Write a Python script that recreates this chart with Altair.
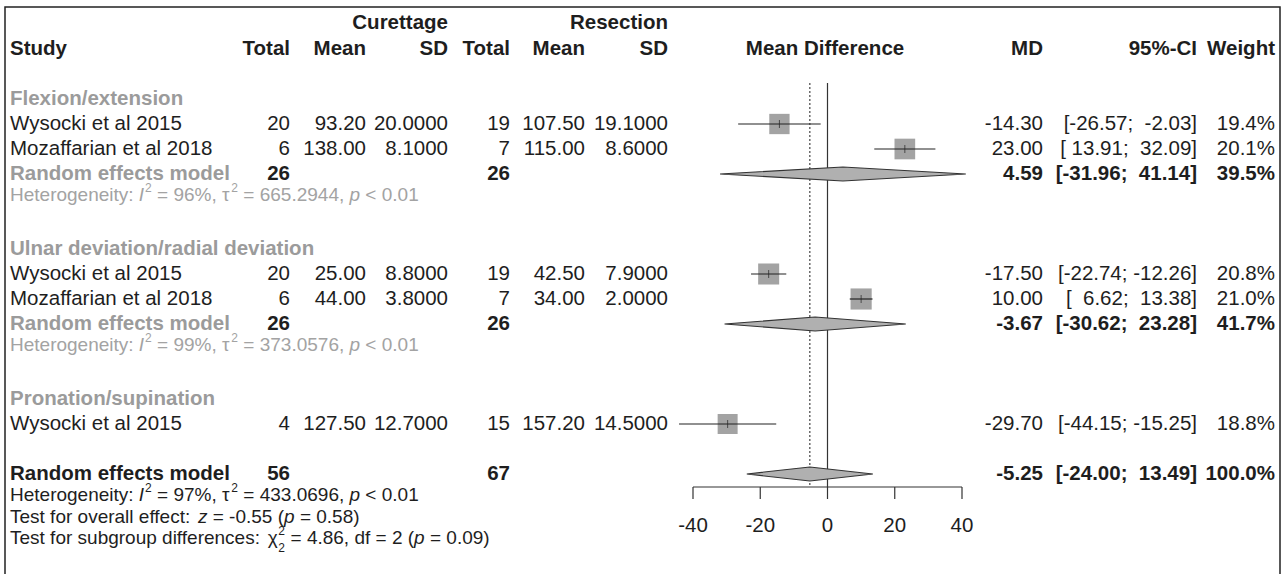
import altair as alt
import pandas as pd

# ------------------------------------------------------------------ data
groups = ["Flexion/extension", "Ulnar deviation/radial deviation", "Pronation/supination"]
study = ["Wysocki et al 2015", "Mozaffarian et al 2018", "Wysocki et al 2015",
         "Mozaffarian et al 2018", "Wysocki et al 2015"]
cur_n = [20, 6, 20, 6, 4]
cur_mean = [93.20, 138.00, 25.00, 44.00, 127.50]
cur_sd = [20.0, 8.1, 8.8, 3.8, 12.7]
res_n = [19, 7, 19, 7, 15]
res_mean = [107.50, 115.00, 42.50, 34.00, 157.20]
res_sd = [19.1, 8.6, 7.9, 2.0, 14.5]
md = [-14.30, 23.00, -17.50, 10.00, -29.70]
md_lo = [-26.57, 13.91, -22.74, 6.62, -44.15]
md_hi = [-2.03, 32.09, -12.26, 13.38, -15.25]
weight = [19.4, 20.1, 20.8, 21.0, 18.8]

sub_cur_n = [26, 26]
sub_res_n = [26, 26]
sub_md = [4.59, -3.67]
sub_lo = [-31.96, -30.62]
sub_hi = [41.14, 23.28]
sub_weight = [39.5, 41.7]
sub_i2 = ["96%", "99%"]
sub_tau2 = ["665.2944", "373.0576"]
sub_p = ["< 0.01", "< 0.01"]

all_cur_n = 56
all_res_n = 67
all_md = -5.25
all_lo = -24.00
all_hi = 13.49
all_weight = 100.0
all_i2 = "97%"
all_tau2 = "433.0696"
all_p = "< 0.01"
test_z = "-0.55"
test_z_p = "0.58"
test_chi2 = "4.86"
test_df = "2"
test_chi_p = "0.09"

x_ticks = [-40, -20, 0, 20, 40]

# ------------------------------------------------------------------ layout / style
FONT = "Liberation Sans"
FS = 20.5
FS_HET = 19
FS_SCRIPT = 12
BLACK = "#1e1e1e"
GRAY = "#9b9b9b"
GRAY_HET = "#a3a3a3"
NB = "\u00a0"

ROW_HEAD1, ROW_HEAD2 = 0.95, 2
ROW_GROUP = [4, 10, 16]
ROW_STUDY = [5, 6, 11, 12, 17]
ROW_SUB = [7, 13]
ROW_ALL = 19
HET_OFF = 0.84
ROW_TEST = 20.72
ROW_SUBTEST = 21.56
REF_TOP, AXIS_ROW, TICK_END, TICK_LAB = 3.36, 19.52, 20.0, 21.08
DIA_H = 0.28

COL = dict(study=10, cur_n=290, cur_mean=366, cur_sd=448, res_n=510,
           res_mean=585, res_sd=668, mdiff=825, md=1043, ci=1197, w=1275)

XS = alt.Scale(domain=[-40, 40], range=[693, 962])
YS = alt.Scale(domain=[0, 20], range=[-1, 499])

# ------------------------------------------------------------------ helpers
WID = {' ': 278, NB: 278, '%': 889, '(': 333, ')': 333, ',': 278, '-': 333, '.': 278,
       ':': 278, ';': 278, '<': 584, '=': 584, '>': 584, 'H': 722, 'T': 611, 'I': 278,
       'a': 556, 'b': 556, 'c': 500, 'd': 556, 'e': 556, 'f': 278, 'g': 556, 'h': 556,
       'i': 222, 'k': 500, 'l': 222, 'm': 833, 'n': 556, 'o': 556, 'p': 556, 'r': 333,
       's': 500, 't': 278, 'u': 556, 'v': 500, 'y': 500, 'z': 500, '\u03c4': 440, '\u03c7': 520}


def tw(s, fs):
    return sum(WID.get(ch, 556) for ch in s) * fs / 1000.0


items = []


def add(text, x, row, align="left", bold=False, color=BLACK, size=FS, italic=False, dy=0):
    items.append(dict(text=text, x=x, row=row, align=align, bold=bold, color=color,
                      size=size, italic=italic, dy=dy))


def seg_line(parts, x0, row, color, fs=FS_HET):
    x = x0
    for txt, kind in parts:
        txt = txt.replace(" ", NB)
        if kind in ("n", "i"):
            body = txt.lstrip(NB)
            x += tw(txt[:len(txt) - len(body)], fs)
            add(body, x, row, color=color, size=fs, italic=(kind == "i"))
            x += tw(body, fs)
        elif kind == "sup":
            add(txt, x + 0.8, row, color=color, size=FS_SCRIPT, dy=-7)
            x += tw(txt, FS_SCRIPT) + 1.0
        elif kind == "supsub":
            add(txt, x + 0.8, row, color=color, size=FS_SCRIPT, dy=-7)
            add(txt, x + 0.8, row, color=color, size=FS_SCRIPT, dy=10)
            x += tw(txt, FS_SCRIPT) + 1.0


def het_parts(i2, tau2, p):
    return [("Heterogeneity: ", "n"), ("I", "i"), ("2", "sup"), (" = " + i2 + ", ", "n"),
            ("\u03c4", "n"), ("2", "sup"), (" = " + tau2 + ", ", "n"), ("p", "i"),
            (" " + p, "n")]


# CI strings padded like R's meta output
los = [f"{v:.2f}" for v in md_lo + sub_lo + [all_lo]]
his = [f"{v:.2f}" for v in md_hi + sub_hi + [all_hi]]
wl = max(len(s) for s in los)
wh = max(len(s) for s in his)
ci_txt = ["[" + NB * (wl - len(a)) + a + ";" + NB + NB * (wh - len(b)) + b + "]"
          for a, b in zip(los, his)]

# ------------------------------------------------------------------ texts
add("Curettage", COL["cur_sd"], ROW_HEAD1, "right", True)
add("Resection", COL["res_sd"], ROW_HEAD1, "right", True)
add("Study", COL["study"], ROW_HEAD2, "left", True)
for k, t in [("cur_n", "Total"), ("cur_mean", "Mean"), ("cur_sd", "SD"),
             ("res_n", "Total"), ("res_mean", "Mean"), ("res_sd", "SD"),
             ("md", "MD"), ("ci", "95%-CI"), ("w", "Weight")]:
    add(t, COL[k], ROW_HEAD2, "right", True)
add("Mean Difference", COL["mdiff"], ROW_HEAD2, "center", True)

for g, r in zip(groups, ROW_GROUP):
    add(g, COL["study"], r, "left", True, GRAY)

for i, r in enumerate(ROW_STUDY):
    add(study[i], COL["study"], r)
    add(str(cur_n[i]), COL["cur_n"], r, "right")
    add(f"{cur_mean[i]:.2f}", COL["cur_mean"], r, "right")
    add(f"{cur_sd[i]:.4f}", COL["cur_sd"], r, "right")
    add(str(res_n[i]), COL["res_n"], r, "right")
    add(f"{res_mean[i]:.2f}", COL["res_mean"], r, "right")
    add(f"{res_sd[i]:.4f}", COL["res_sd"], r, "right")
    add(f"{md[i]:.2f}", COL["md"], r, "right")
    add(ci_txt[i], COL["ci"], r, "right")
    add(f"{weight[i]:.1f}%", COL["w"], r, "right")

for j, r in enumerate(ROW_SUB):
    add("Random effects model", COL["study"], r, "left", True, GRAY)
    add(str(sub_cur_n[j]), COL["cur_n"], r, "right", True)
    add(str(sub_res_n[j]), COL["res_n"], r, "right", True)
    add(f"{sub_md[j]:.2f}", COL["md"], r, "right", True)
    add(ci_txt[5 + j], COL["ci"], r, "right", True)
    add(f"{sub_weight[j]:.1f}%", COL["w"], r, "right", True)
    seg_line(het_parts(sub_i2[j], sub_tau2[j], sub_p[j]), COL["study"], r + HET_OFF, GRAY_HET)

add("Random effects model", COL["study"], ROW_ALL, "left", True)
add(str(all_cur_n), COL["cur_n"], ROW_ALL, "right", True)
add(str(all_res_n), COL["res_n"], ROW_ALL, "right", True)
add(f"{all_md:.2f}", COL["md"], ROW_ALL, "right", True)
add(ci_txt[-1], COL["ci"], ROW_ALL, "right", True)
add(f"{all_weight:.1f}%", COL["w"], ROW_ALL, "right", True)
seg_line(het_parts(all_i2, all_tau2, all_p), COL["study"], ROW_ALL + HET_OFF, BLACK)
seg_line([("Test for overall effect: ", "n"), ("z", "i"), (" = " + test_z + " (", "n"),
          ("p", "i"), (" = " + test_z_p + ")", "n")], COL["study"], ROW_TEST, BLACK)
seg_line([("Test for subgroup differences: ", "n"), ("\u03c7", "n"), ("2", "supsub"),
          (" = " + test_chi2 + ", df = " + test_df + " (", "n"), ("p", "i"),
          (" = " + test_chi_p + ")", "n")], COL["study"], ROW_SUBTEST, BLACK)

tdf = pd.DataFrame(items)

layers = []

# frame
layers.append(alt.Chart(pd.DataFrame({"k": [0]})).mark_rect(
    fillOpacity=0, stroke="#222222", strokeWidth=1.5).encode(
    x=alt.value(5), x2=alt.value(1280), y=alt.value(7), y2=alt.value(580)))

# reference lines
ref = pd.DataFrame({"v": [0.0], "top": [REF_TOP], "bot": [AXIS_ROW]})
layers.append(alt.Chart(ref).mark_rule(color="#333333", strokeWidth=1.2).encode(
    x=alt.X("v:Q", scale=XS, axis=None),
    y=alt.Y("top:Q", scale=YS, axis=None), y2="bot:Q"))
dref = pd.DataFrame({"v": [all_md], "top": [REF_TOP], "bot": [AXIS_ROW]})
layers.append(alt.Chart(dref).mark_rule(color="#333333", strokeWidth=1.1, strokeDash=[2, 2]).encode(
    x=alt.X("v:Q", scale=XS, axis=None),
    y=alt.Y("top:Q", scale=YS, axis=None), y2="bot:Q"))

# study squares, CI lines, centre ticks
forest = pd.DataFrame({"md": md, "lo": md_lo, "hi": md_hi, "weight": weight, "row": ROW_STUDY})
layers.append(alt.Chart(forest).mark_square(color="#a3a3a3", opacity=1, strokeWidth=0).encode(
    x=alt.X("md:Q", scale=XS, axis=None),
    y=alt.Y("row:Q", scale=YS, axis=None),
    size=alt.Size("weight:Q", scale=alt.Scale(domain=[0, 100], range=[0, 2127]), legend=None)))
layers.append(alt.Chart(forest).mark_rule(color="#222222", strokeWidth=1.2).encode(
    x=alt.X("lo:Q", scale=XS, axis=None), x2="hi:Q",
    y=alt.Y("row:Q", scale=YS, axis=None)))
layers.append(alt.Chart(forest).mark_tick(orient="vertical", size=8, thickness=1, color="#222222").encode(
    x=alt.X("md:Q", scale=XS, axis=None),
    y=alt.Y("row:Q", scale=YS, axis=None)))

# diamonds
drows = []
for i, (m, lo, hi, r) in enumerate(zip(sub_md + [all_md], sub_lo + [all_lo],
                                       sub_hi + [all_hi], ROW_SUB + [ROW_ALL])):
    drows += [dict(id=i, xv=lo, y1=r, y2=r),
              dict(id=i, xv=m, y1=r - DIA_H, y2=r + DIA_H),
              dict(id=i, xv=hi, y1=r, y2=r)]
layers.append(alt.Chart(pd.DataFrame(drows)).mark_area(
    fill="#b0b0b0", stroke="#333333", strokeWidth=1.1, opacity=1).encode(
    x=alt.X("xv:Q", scale=XS, axis=None),
    y=alt.Y("y1:Q", scale=YS, axis=None), y2="y2:Q",
    detail="id:N"))

# axis
adf = pd.DataFrame({"a": [x_ticks[0]], "b": [x_ticks[-1]], "row": [AXIS_ROW]})
layers.append(alt.Chart(adf).mark_rule(color="#333333", strokeWidth=1.2).encode(
    x=alt.X("a:Q", scale=XS, axis=None), x2="b:Q",
    y=alt.Y("row:Q", scale=YS, axis=None)))
tdf2 = pd.DataFrame({"v": x_ticks, "top": [AXIS_ROW] * len(x_ticks),
                     "bot": [TICK_END] * len(x_ticks), "lab": [TICK_LAB] * len(x_ticks),
                     "t": [str(v) for v in x_ticks]})
layers.append(alt.Chart(tdf2).mark_rule(color="#333333", strokeWidth=1.2).encode(
    x=alt.X("v:Q", scale=XS, axis=None),
    y=alt.Y("top:Q", scale=YS, axis=None), y2="bot:Q"))
layers.append(alt.Chart(tdf2).mark_text(font=FONT, fontSize=FS, color=BLACK, align="center",
                                         baseline="middle").encode(
    x=alt.X("v:Q", scale=XS, axis=None),
    y=alt.Y("lab:Q", scale=YS, axis=None), text="t:N"))

# text layers grouped by style
keys = ["align", "bold", "color", "size", "italic", "dy"]
for key, sub in tdf.groupby(keys, sort=False):
    al, b, c, s, it, dy = key
    layers.append(alt.Chart(sub[["text", "x", "row"]]).mark_text(
        align=al, baseline="middle", font=FONT, fontSize=float(s),
        fontWeight="bold" if b else "normal",
        fontStyle="italic" if it else "normal", color=c, dy=float(dy)).encode(
        x=alt.X("x:Q", scale=None, axis=None),
        y=alt.Y("row:Q", scale=YS, axis=None),
        text="text:N"))

chart = alt.layer(*layers).properties(
    width=1287, height=574, autosize=alt.AutoSizeParams(type="none"), padding=0,
    background="white"
).configure_view(strokeWidth=0)

chart.save("out.html", embed_options={"renderer": "svg", "actions": False})
